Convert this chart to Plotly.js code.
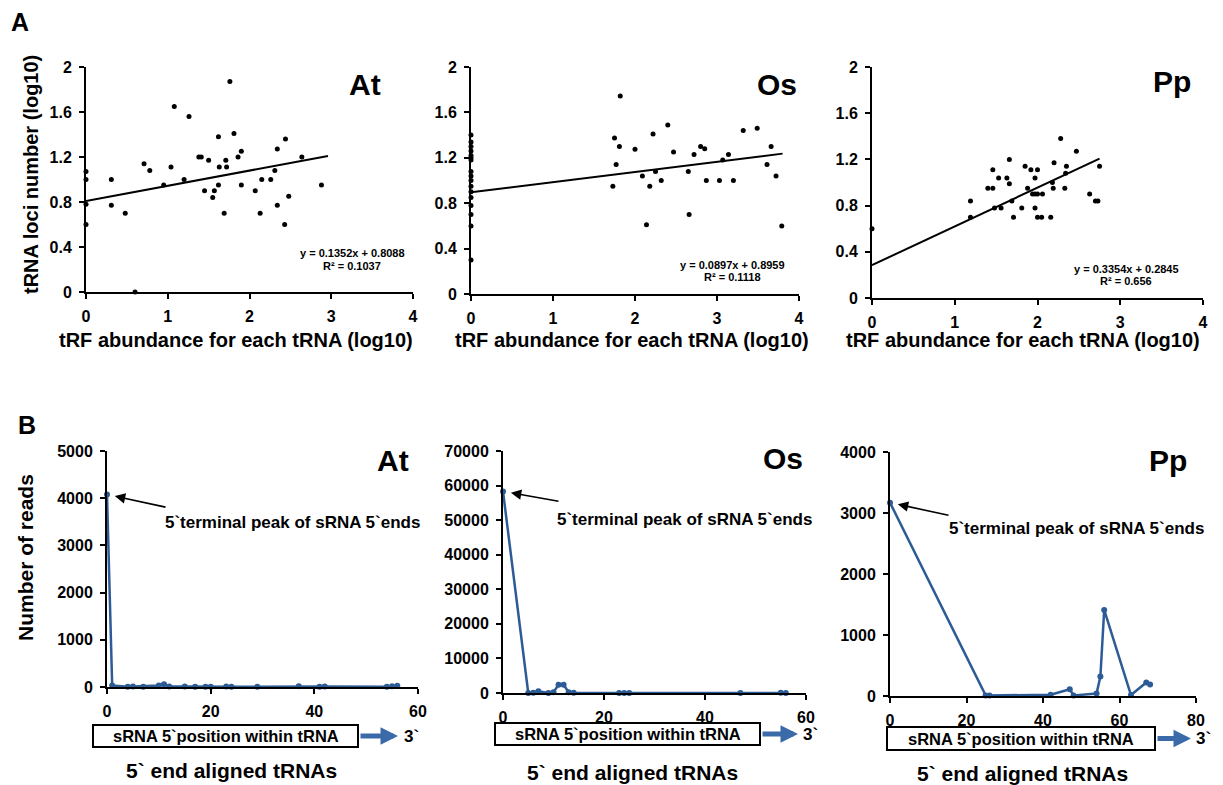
<!DOCTYPE html>
<html>
<head>
<meta charset="utf-8">
<script src="https://cdn.plot.ly/plotly-3.0.1.min.js"></script>
<style>html,body{margin:0;padding:0;background:#fff;}#chart{width:1223px;height:785px;}</style>
</head>
<body>
<div id="chart"></div>
<script>
// ---------- DATA ----------
const atX = [0,0,0,0,0.31,0.31,0.48,0.6,0.71,0.78,0.95,1.04,1.08,1.2,1.26,1.38,1.41,1.45,1.5,1.55,1.57,1.62,1.62,1.63,1.69,1.71,1.72,1.76,1.81,1.86,1.9,1.9,2.07,2.13,2.15,2.26,2.31,2.34,2.34,2.43,2.44,2.48,2.64,2.88];
const atY = [1.07,1.0,0.78,0.6,1.0,0.77,0.7,0,1.14,1.08,0.95,1.11,1.65,1.0,1.56,1.2,1.2,0.9,1.17,0.84,0.9,1.38,0.95,1.11,0.7,1.17,1.11,1.87,1.41,1.2,1.25,0.95,0.9,0.7,1.0,1.0,1.08,1.27,0.77,0.6,1.36,0.85,1.2,0.95];
const osX = [0,0,0,0,0,0,0,0,0,0,0,0,0,0,0,0,0,1.73,1.75,1.77,1.81,1.82,2.0,2.09,2.14,2.18,2.22,2.25,2.32,2.40,2.47,2.65,2.66,2.72,2.80,2.85,2.87,3.03,3.07,3.14,3.20,3.32,3.49,3.61,3.66,3.72,3.79];
const osY = [1.40,1.34,1.30,1.26,1.22,1.20,1.18,1.08,1.04,1.0,0.95,0.90,0.85,0.78,0.70,0.60,0.30,0.95,1.375,1.14,1.30,1.745,1.275,1.04,0.61,0.95,1.41,1.08,1.0,1.49,1.25,1.08,0.70,1.23,1.30,1.28,1.0,1.0,1.18,1.23,1.0,1.44,1.46,1.14,1.30,1.04,0.60];
const ppX = [0,1.19,1.19,1.40,1.46,1.46,1.48,1.53,1.56,1.63,1.66,1.66,1.69,1.71,1.81,1.85,1.88,1.92,1.94,1.97,1.97,1.97,2.0,2.0,2.0,2.05,2.06,2.16,2.18,2.19,2.2,2.28,2.33,2.34,2.35,2.47,2.63,2.70,2.73,2.75];
const ppY = [0.6,0.84,0.70,0.95,0.95,1.11,0.78,1.04,0.78,1.04,1.20,0.99,0.84,0.70,0.78,1.14,0.95,1.11,0.90,0.90,1.04,0.78,1.11,0.90,0.70,0.70,0.90,0.70,1.00,0.95,1.17,1.38,0.95,1.08,1.14,1.27,0.90,0.84,0.84,1.14];

const species = ['At','Os','Pp'];
const trendSlope = [0.1352, 0.0897, 0.3354];
const trendIntercept = [0.8088, 0.8959, 0.2845];
const trendXEnd = [2.96, 3.80, 2.75];
const trendEq = ['y = 0.1352x + 0.8088','y = 0.0897x + 0.8959','y = 0.3354x + 0.2845'];
const trendR2 = ['R² = 0.1037','R² = 0.1118','R² = 0.656'];

const atPos = [0,1,4,5,7,10,11,12,15,17,19,20,23,24,29,37,41,42,54,55,56];
const atReads = [4080,30,5,10,5,30,60,10,8,5,5,5,10,5,5,15,5,10,5,15,25];
const osPos = [0,5,6,7,9,10,11,12,13,14,23,24,25,47,55,56];
const osReads = [58300,0,100,500,0,250,2400,2400,200,50,0,0,0,0,100,0];
const ppPos = [0,25,26,42,47,48,54,55,56,63,67,68];
const ppReads = [3170,10,10,20,110,10,40,320,1410,15,220,190];

const aYTicks = [0,0.4,0.8,1.2,1.6,2];
const aYTickText = ['0','0.4','0.8','1.2','1.6','2'];
const aXTicks = [0,1,2,3,4];
const aXTickText = ['0','1','2','3','4'];

// ---------- LAYOUT HELPERS ----------
const W = 1223, H = 785;
const px = x => x / W;
const py = y => 1 - y / H;
const F = '"Liberation Sans"';
const blue = '#2d5b96';
const bold = s => '<b>' + s + '</b>';

function axisBase(extra) {
  return Object.assign({
    showgrid: false, zeroline: false, showline: true, linecolor: '#000', linewidth: 2,
    ticks: 'outside', ticklen: 5, tickwidth: 2, tickcolor: '#000',
    tickfont: {family: F, size: 16, color: '#000', weight: 'bold'},
    fixedrange: true
  }, extra);
}

// pixel boxes [x0, x1, yTop, yBottom]
const aBoxes = [[86,413,67,292],[471,799,67,294],[872,1203,67,298]];
const bBoxes = [[107,418,451,687],[503,806,451,693],[890,1196,452,696]];
const bXRange = [[0,60],[0,60],[0,80]];
const bYRange = [[0,5000],[0,70000],[0,4000]];
const bYStep = [1000,10000,1000];
const bXStep = [20,20,20];

const layout = {
  width: W, height: H, margin: {l:0,r:0,t:0,b:0},
  paper_bgcolor: '#fff', plot_bgcolor: 'rgba(0,0,0,0)', showlegend: false,
  annotations: [], shapes: []
};

const data = [];
const aSets = [[atX,atY],[osX,osY],[ppX,ppY]];
for (let i = 0; i < 3; i++) {
  const n = i + 1, b = aBoxes[i];
  const xa = 'xaxis' + (n === 1 ? '' : n), ya = 'yaxis' + (n === 1 ? '' : n);
  const xr = 'x' + (n === 1 ? '' : n), yr = 'y' + (n === 1 ? '' : n);
  layout[xa] = axisBase({domain: [px(b[0]), px(b[1])], range: [0,4], anchor: yr,
    tickvals: aXTicks, ticktext: aXTickText, ticklabelstandoff: 4});
  layout[ya] = axisBase({domain: [py(b[3]), py(b[2])], range: [0,2], anchor: xr,
    tickvals: aYTicks, ticktext: aYTickText, ticklabelstandoff: 4});
  data.push({type:'scatter', mode:'markers', x: aSets[i][0], y: aSets[i][1], xaxis: xr, yaxis: yr,
    marker: {color:'#000', size: 5}, cliponaxis: false, hoverinfo:'skip'});
  const tx = [0, trendXEnd[i]];
  data.push({type:'scatter', mode:'lines', x: tx, y: tx.map(v => trendSlope[i]*v + trendIntercept[i]),
    xaxis: xr, yaxis: yr, line: {color:'#000', width: 2}, cliponaxis: false, hoverinfo:'skip'});
}
const bSets = [[atPos,atReads],[osPos,osReads],[ppPos,ppReads]];
for (let i = 0; i < 3; i++) {
  const n = i + 4, b = bBoxes[i];
  const xr = 'x' + n, yr = 'y' + n;
  const yt = []; for (let v = bYRange[i][0]; v <= bYRange[i][1]; v += bYStep[i]) yt.push(v);
  const xt = []; for (let v = bXRange[i][0]; v <= bXRange[i][1]; v += bXStep[i]) xt.push(v);
  layout['xaxis' + n] = axisBase({domain: [px(b[0]), px(b[1])], range: bXRange[i], anchor: yr,
    tickvals: xt, ticktext: xt.map(String), ticklabelstandoff: 4});
  layout['yaxis' + n] = axisBase({domain: [py(b[3]), py(b[2])], range: bYRange[i], anchor: xr,
    tickvals: yt, ticktext: yt.map(String), ticklabelstandoff: 4});
  data.push({type:'scatter', mode:'lines+markers', x: bSets[i][0], y: bSets[i][1], xaxis: xr, yaxis: yr,
    line: {color: blue, width: 2.5}, marker: {color: blue, size: 6}, cliponaxis: false, hoverinfo:'skip'});
}

function txt(text, x, y, size, opts) {
  layout.annotations.push(Object.assign({
    text: bold(text), xref:'paper', yref:'paper', x: px(x), y: py(y), showarrow: false,
    xanchor:'center', yanchor:'middle',
    font: {family: F, size: size, color:'#000'}
  }, opts || {}));
}

// panel letters
txt('A', 20, 22, 25);
txt('B', 27, 425, 25);

// species labels
const aSpPos = [[365,85],[777,85],[1172,82]];
const bSpPos = [[393,460],[783,458],[1168,460]];
for (let i = 0; i < 3; i++) {
  txt(species[i], aSpPos[i][0], aSpPos[i][1], 30);
  txt(species[i], bSpPos[i][0], bSpPos[i][1], 30);
}

// equations
const eqPos = [[352,253,266],[732,265,277],[1126,269,281]];
for (let i = 0; i < 3; i++) {
  txt(trendEq[i], eqPos[i][0], eqPos[i][1], 11);
  txt(trendR2[i], eqPos[i][0], eqPos[i][2], 11);
}

// axis titles
const aXTitle = [236, 632, 1023];
for (let i = 0; i < 3; i++) txt('tRF abundance for each tRNA (log10)', aXTitle[i], 340, 20);
txt('tRNA loci number (log10)', 31, 175, 20, {textangle: -90});
txt('Number of reads', 25, 558, 21, {textangle: -90});

// B peak annotations
const peakTxt = [[163,522],[555,519],[947,528]];
const peakArrow = [[60,13],[57,10],[60,13]];
for (let i = 0; i < 3; i++) {
  const n = i + 4;
  layout.annotations.push({
    text: '', xref: 'x' + n, yref: 'y' + n, x: bSets[i][0][0], y: bSets[i][1][0],
    showarrow: true, ax: peakArrow[i][0], ay: peakArrow[i][1], axref: 'pixel', ayref: 'pixel',
    arrowhead: 2, arrowsize: 1.3, arrowwidth: 1.6, arrowcolor: '#000', standoff: 8
  });
  txt('5`terminal peak of sRNA 5`ends', peakTxt[i][0], peakTxt[i][1], 17, {xanchor:'left'});
}

// position boxes + arrows
const boxes = [[93,358,725,747,398,402],[495,760,723,745,798,801],[887,1155,727,750,1191,1194]];
const endTitle = [[231,770],[632,772],[1022,773]];
for (let i = 0; i < 3; i++) {
  const bx = boxes[i];
  layout.shapes.push({type:'rect', xref:'paper', yref:'paper', x0: px(bx[0]), x1: px(bx[1]),
    y0: py(bx[3]), y1: py(bx[2]), line: {color:'#000', width: 2}, fillcolor: 'rgba(0,0,0,0)'});
  const cy = (bx[2] + bx[3]) / 2;
  txt('sRNA 5`position within tRNA', (bx[0] + bx[1]) / 2, cy, 16.5);
  layout.annotations.push({
    text: '', xref:'paper', yref:'paper', x: px(bx[4]), y: py(cy), showarrow: true,
    ax: -(bx[4] - bx[1] - 1), ay: 0, axref:'pixel', ayref:'pixel',
    arrowhead: 2, arrowsize: 0.7, arrowwidth: 5, arrowcolor: '#3b6aa8'
  });
  txt('3`', bx[5], cy, 17, {xanchor:'left'});
  txt('5` end aligned tRNAs', endTitle[i][0], endTitle[i][1], 21);
}

Plotly.newPlot('chart', data, layout, {staticPlot: true, displayModeBar: false});
</script>
</body>
</html>
